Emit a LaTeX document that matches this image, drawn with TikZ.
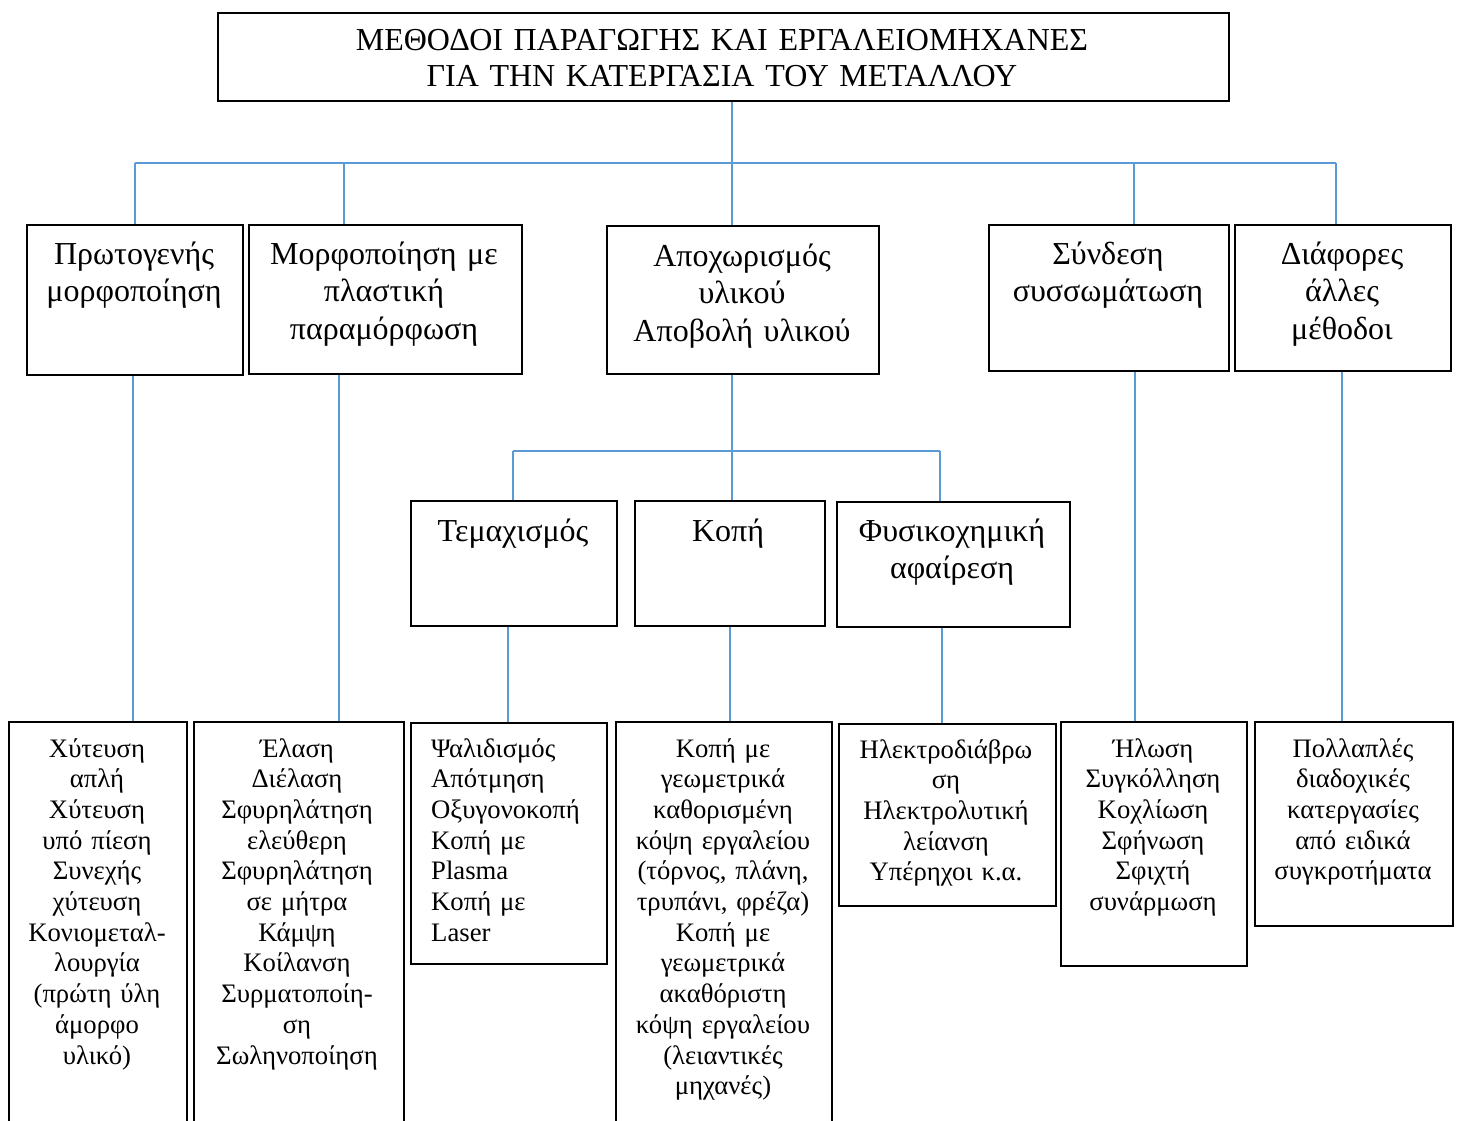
\documentclass[tikz,border=0pt]{standalone}
\usepackage{fontspec}
\setmainfont{Liberation Serif}
\usepackage{xcolor}
\usetikzlibrary{positioning}
\definecolor{linkblue}{RGB}{91,155,213}

\begin{document}
\begin{tikzpicture}[x=1pt,y=-1pt]
\tikzstyle{box}=[draw,line width=1.6pt,rectangle,inner sep=0pt,anchor=north west]
\tikzstyle{lnk}=[draw=linkblue,line width=1.8pt]
\tikzstyle{ttl}=[inner sep=0pt,anchor=base,text width=900pt,align=center,font=\fontsize{32}{36}\selectfont]
\tikzstyle{hd}=[inner sep=0pt,anchor=base,text width=300pt,align=center,font=\fontsize{32}{37.5}\selectfont]
\tikzstyle{it}=[inner sep=0pt,anchor=base,text width=300pt,align=center,font=\fontsize{26.7}{30.7}\selectfont]
\clip (0,0) rectangle (1459,1121);

% top
\node[box,minimum width=1011pt,minimum height=88pt] (top) at (217,12) {};
\node[ttl] at (722,51) {ΜΕΘΟΔΟΙ ΠΑΡΑΓΩΓΗΣ ΚΑΙ ΕΡΓΑΛΕΙΟΜΗΧΑΝΕΣ\\ΓΙΑ ΤΗΝ ΚΑΤΕΡΓΑΣΙΑ ΤΟΥ ΜΕΤΑΛΛΟΥ};

% first level
\node[box,minimum width=216pt,minimum height=150pt] (prim) at (26,224) {};
\node[box,minimum width=273pt,minimum height=149pt] (morf) at (248,224) {};
\node[box,minimum width=272pt,minimum height=148pt] (apo) at (606,225) {};
\node[box,minimum width=240pt,minimum height=146pt] (synd) at (988,224) {};
\node[box,minimum width=216pt,minimum height=146pt] (diaf) at (1234,224) {};
\node[hd] at (134,264) {Πρωτογενής\\μορφοποίηση};
\node[hd] at (384,264) {Μορφοποίηση με\\πλαστική\\παραμόρφωση};
\node[hd] at (742,266) {Αποχωρισμός\\υλικού\\Αποβολή υλικού};
\node[hd] at (1108,264) {Σύνδεση\\συσσωμάτωση};
\node[hd] at (1342,264) {Διάφορες\\άλλες\\μέθοδοι};

% second level
\node[box,minimum width=206pt,minimum height=125pt] (tem) at (410,500) {};
\node[box,minimum width=190pt,minimum height=125pt] (kop) at (634,500) {};
\node[box,minimum width=233pt,minimum height=125pt] (fys) at (836,501) {};
\node[hd] at (513,541) {Τεμαχισμός};
\node[hd] at (728,541) {Κοπή};
\node[hd] at (952,541) {Φυσικοχημική\\αφαίρεση};

% third level
\node[box,minimum width=178pt,minimum height=420pt] (cast) at (8,721) {};
\node[box,minimum width=210pt,minimum height=420pt] (plas) at (193,721) {};
\node[box,minimum width=196pt,minimum height=241pt] (shear) at (410,722) {};
\node[box,minimum width=216pt,minimum height=420pt] (cut) at (615,721) {};
\node[box,minimum width=217pt,minimum height=182pt] (edm) at (838,723) {};
\node[box,minimum width=186pt,minimum height=244pt] (join) at (1060,721) {};
\node[box,minimum width=198pt,minimum height=204pt] (multi) at (1254,721) {};
\node[it] at (97,757) {Χύτευση\\απλή\\Χύτευση\\υπό πίεση\\Συνεχής\\χύτευση\\Κονιομεταλ-\\λουργία\\(πρώτη ύλη\\άμορφο\\υλικό)};
\node[it] at (297,757) {Έλαση\\Διέλαση\\Σφυρηλάτηση\\ελεύθερη\\Σφυρηλάτηση\\σε μήτρα\\Κάμψη\\Κοίλανση\\Συρματοποίη-\\ση\\Σωληνοποίηση};
\node[it,anchor=base west,align=left] at (431,757) {Ψαλιδισμός\\Απότμηση\\Οξυγονοκοπή\\Κοπή με\\Plasma\\Κοπή με\\Laser};
\node[it] at (723,757) {Κοπή με\\γεωμετρικά\\καθορισμένη\\κόψη εργαλείου\\(τόρνος, πλάνη,\\τρυπάνι, φρέζα)\\Κοπή με\\γεωμετρικά\\ακαθόριστη\\κόψη εργαλείου\\(λειαντικές\\μηχανές)};
\node[it] at (946,758) {Ηλεκτροδιάβρω\\ση\\Ηλεκτρολυτική\\λείανση\\Υπέρηχοι κ.α.};
\node[it] at (1153,757) {Ήλωση\\Συγκόλληση\\Κοχλίωση\\Σφήνωση\\Σφιχτή\\συνάρμωση};
\node[it] at (1353,757) {Πολλαπλές\\διαδοχικές\\κατεργασίες\\από ειδικά\\συγκροτήματα};

% links
\coordinate (bus) at (732,163);
\coordinate (bus2) at (732,451);
\draw[lnk] (top.south -| bus) -- (bus);
\draw[lnk] (bus -| prim.north) -- (bus -| 1336,0);
\draw[lnk] (bus -| prim.north) -- (prim.north);
\draw[lnk] (bus -| 344,0) -- (morf.north -| 344,0);
\draw[lnk] (bus) -- (apo.north -| bus);
\draw[lnk] (bus -| 1134,0) -- (synd.north -| 1134,0);
\draw[lnk] (bus -| 1336,0) -- (diaf.north -| 1336,0);
\draw[lnk] (apo.south -| bus2) -- (bus2);
\draw[lnk] (bus2 -| 513,0) -- (bus2 -| 940,0);
\draw[lnk] (bus2 -| 513,0) -- (tem.north -| 513,0);
\draw[lnk] (bus2) -- (kop.north -| bus2);
\draw[lnk] (bus2 -| 940,0) -- (fys.north -| 940,0);
\draw[lnk] (prim.south -| 133,0) -- (cast.north -| 133,0);
\draw[lnk] (morf.south -| 339,0) -- (plas.north -| 339,0);
\draw[lnk] (tem.south -| 508,0) -- (shear.north -| 508,0);
\draw[lnk] (kop.south -| 730,0) -- (cut.north -| 730,0);
\draw[lnk] (fys.south -| 942,0) -- (edm.north -| 942,0);
\draw[lnk] (synd.south -| 1135,0) -- (join.north -| 1135,0);
\draw[lnk] (diaf.south -| 1342,0) -- (multi.north -| 1342,0);
\end{tikzpicture}
\end{document}
